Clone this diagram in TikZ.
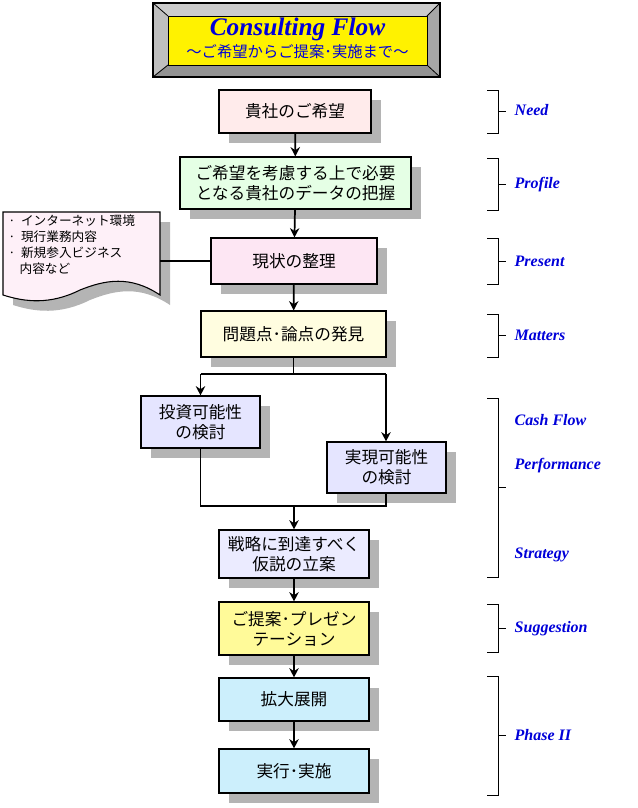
\documentclass[tikz,border=0pt]{standalone}
\usepackage{fontspec}
\setmainfont{Noto Sans CJK JP}
\newfontfamily\lab{Liberation Serif}
\usetikzlibrary{arrows.meta}
\definecolor{sh}{HTML}{B4B4B4}
\begin{document}
\begin{tikzpicture}[x=0.75pt,y=-0.75pt,
 box/.style={draw=black,line width=0.8pt,align=center,font=\fontsize{12.5}{15}\selectfont,inner sep=0pt},
 conn/.style={line width=1.3pt},
 arr/.style={conn,-{Stealth[length=7pt,width=7pt]}},
 lab/.style={anchor=west,text=blue!85!black,font=\lab\bfseries\itshape\fontsize{12}{14}\selectfont},
 brk/.style={line width=0.6pt}]
\useasboundingbox (0,0) rectangle (637,808);
% title
\fill[gray!70] (153,3) rectangle (440,77);
\fill[gray!40] (153,3) -- (440,3) -- (427,16) -- (168,16) -- cycle;
\fill[gray!50] (153,3) -- (168,16) -- (168,65) -- (153,77) -- cycle;
\fill[gray!85] (153,77) -- (168,65) -- (427,65) -- (440,77) -- cycle;
\draw[line width=0.8pt] (153,3) rectangle (440,77);
\draw[line width=0.6pt] (153,3)--(168,16) (440,3)--(427,16) (153,77)--(168,65) (440,77)--(427,65);
\node[draw=black,line width=0.6pt,fill=yellow,inner sep=0pt,minimum width=194.25pt,minimum height=36.75pt] (title) at (297.5,40.5) {};
\node[text=blue!85!black,font=\lab\bfseries\itshape\fontsize{19}{20}\selectfont] (t1) at (297.5,29) {Consulting Flow};
\node[text=blue!85!black,font=\fontsize{11.5}{12}\selectfont] (t2) at (297.5,52) {～ご希望からご提案･実施まで～};
% boxes with shadows
\newcommand{\mybox}[7]{%
 \fill[sh] (#1+10,#2+10) rectangle (#3+10,#4+10);
 \node[box,fill=#5,minimum width={(#3-#1)*0.75pt},minimum height={(#4-#2)*0.75pt}] (#6) at ({(#1+#3)/2},{(#2+#4)/2}) {#7};}
\mybox{219}{90}{371}{133}{red!8}{need}{貴社のご希望}
\mybox{180}{157}{411}{209}{green!10}{prof}{ご希望を考慮する上で必要\\となる貴社のデータの把握}
\mybox{211}{238}{377}{284}{magenta!10}{pres}{現状の整理}
\mybox{201}{311}{386}{357}{yellow!12}{matt}{問題点･論点の発見}
\mybox{141}{396}{260}{448}{blue!10}{inv}{投資可能性\\の検討}
\mybox{327}{442}{446}{493}{blue!10}{real}{実現可能性\\の検討}
\mybox{219}{530}{369}{578}{blue!8}{strat}{戦略に到達すべく\\仮説の立案}
\mybox{219}{602}{369}{655}{yellow!40}{sugg}{ご提案･プレゼン\\テーション}
\mybox{219}{678}{369}{721}{cyan!20}{exp}{拡大展開}
\mybox{219}{749}{369}{793}{cyan!20}{exe}{実行･実施}
% document
\fill[sh] (13,222) -- (170,222) -- (170,305) .. controls (140,285) and (115,290) .. (90,300) .. controls (60,315) and (35,312) .. (13,305) -- cycle;
\draw[line width=0.8pt,fill=magenta!6] (3,212) -- (160,212) -- (160,295) .. controls (130,275) and (105,280) .. (80,290) .. controls (50,305) and (25,302) .. (3,295) -- cycle;
\node[anchor=north west,align=left,font=\fontsize{9.5}{12}\selectfont,inner sep=0pt] (doc) at (8,215) {·\ \ インターネット環境\\·\ \ 現行業務内容\\·\ \ 新規参入ビジネス\\\ \ \ \ 内容など};
\coordinate (docr) at (160,261);
% connectors
\draw[arr] (need) -- (prof);
\draw[arr] (prof) -- (pres);
\draw[arr] (pres) -- (matt);
\draw[conn] (pres.west) -- (docr);
\coordinate (sl) at (200.5,374);
\coordinate (sr) at (386,374);
\draw[conn] (matt.south) -- (matt.south |- sl);
\draw[conn] (sl) -- (sr);
\draw[arr] (sl) -- (inv.north);
\draw[arr] (sr) -- (sr |- real.north);
\coordinate (ml) at (200.5,506);
\coordinate (mr) at (386,506);
\draw[conn] (inv.south) -- (ml) -- (mr) -- (mr |- real.south);
\draw[arr] (strat.north |- ml) -- (strat);
\draw[arr] (strat) -- (sugg);
\draw[arr] (sugg) -- (exp);
\draw[arr] (exp) -- (exe);
% brackets
\foreach \a/\b in {90/133,158/210,238/284,314/357,398/577,604/652,676/795}{
  \draw[brk] (487,\a) -- (498,\a) -- (498,\b) -- (487,\b);
  \draw[brk] (498,{(\a+\b)/2}) -- (506,{(\a+\b)/2});}
\node[lab] (l1) at (510,110) {Need};
\node[lab] (l2) at (510,185) {Profile};
\node[lab] (l3) at (510,261) {Present};
\node[lab] (l4) at (510,335) {Matters};
\node[lab] (l5) at (510,420) {Cash Flow};
\node[lab] (l6) at (510,466) {Performance};
\node[lab] (l7) at (510,555) {Strategy};
\node[lab] (l8) at (510,629) {Suggestion};
\node[lab] (l9) at (510,735) {Phase II};
\end{tikzpicture}
\end{document}
